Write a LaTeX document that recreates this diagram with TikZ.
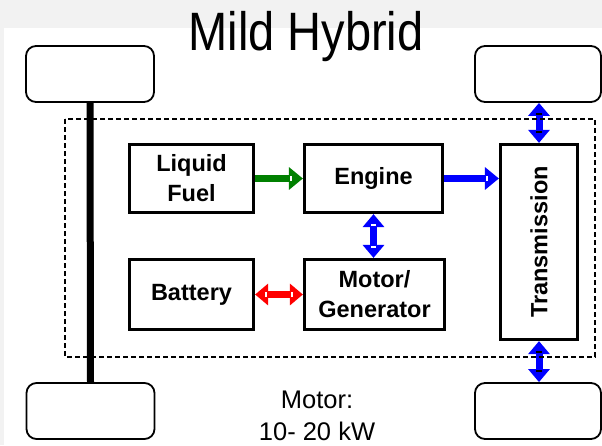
\documentclass[tikz,border=0pt]{standalone}
\usepackage{fontspec}
\usepackage{graphicx}
\setmainfont{Liberation Sans}
\usetikzlibrary{arrows.meta}
\begin{document}
\begin{tikzpicture}[x=1pt,y=-1pt,
  blk/.style={draw, line width=3.2pt, fill=white, font=\fontsize{23.5}{30}\selectfont\bfseries, align=center, inner sep=0pt},
  wheel/.style={draw, line width=1.8pt, rounded corners=10pt, fill=white, inner sep=0pt, minimum height=56pt},
  arr/.style={line width=7pt, -{Triangle[length=14pt,width=22pt]}},
  darr/.style={line width=7pt, {Triangle[length=13pt,width=21pt]}-{Triangle[length=13pt,width=21pt]}},
  wstripe/.style={white, line width=1.3pt},
  bstripe/.style={black, line width=1.6pt},
  lbl/.style={font=\fontsize{25.5}{32}\selectfont, anchor=base, inner sep=0pt}]
\useasboundingbox (0,0) rectangle (602,445);
\fill[white] (0,0) rectangle (602,445);
\fill[black!5] (0,0) rectangle (602,28);
\fill[black!5] (0,28) rectangle (4,445);
% wheels
\node[wheel, minimum width=128pt] (wTL) at (90,74) {};
\node[wheel, minimum width=126pt] (wTR) at (538,74) {};
\node[wheel, minimum width=128pt] (wBL) at (90.5,411) {};
\node[wheel, minimum width=126pt] (wBR) at (538,411) {};
% axle
\draw[line width=7pt] (wTL.south) -- (wBL.north);
% blocks
\node[blk, minimum width=124pt, minimum height=68pt] (fuel) at (191.5,178.5) {Liquid\\Fuel};
\node[blk, minimum width=138pt, minimum height=68pt] (engine) at (373.5,178.5) {Engine};
\node[blk, minimum width=124pt, minimum height=70pt] (battery) at (191.5,294.5) {Battery};
\node[blk, minimum width=140pt, minimum height=70pt] (motor) at (374.5,294.5) {Motor/\\Generator};
\node[blk, minimum width=77pt, minimum height=195pt] (trans) at (539,242) {\rotatebox{90}{Transmission}};
% arrows
\draw[arr, green!50!black] (fuel.east) -- (engine.west);
\draw[wstripe] ([xshift=-12pt,yshift=-2.5pt]engine.west) -- ([xshift=-12pt,yshift=2.5pt]engine.west);
\draw[arr, blue] (engine.east) -- (engine.east -| trans.west);
\draw[wstripe] ([xshift=-12pt,yshift=-2.5pt]engine.east -| trans.west) -- ([xshift=-12pt,yshift=2.5pt]engine.east -| trans.west);
\draw[darr, blue] (engine.south) -- (engine.south |- motor.north);
\draw[wstripe] ([xshift=-2.5pt,yshift=-11pt]engine.south) -- ([xshift=2.5pt,yshift=-11pt]engine.south);
\draw[wstripe] ([xshift=-2.5pt,yshift=11pt]engine.south |- motor.north) -- ([xshift=2.5pt,yshift=11pt]engine.south |- motor.north);
\draw[darr, red] (battery.east) -- (motor.west);
\draw[wstripe] ([xshift=11pt,yshift=-2.5pt]battery.east) -- ([xshift=11pt,yshift=2.5pt]battery.east);
\draw[wstripe] ([xshift=-11pt,yshift=-2.5pt]motor.west) -- ([xshift=-11pt,yshift=2.5pt]motor.west);
\draw[darr, blue] (trans.north |- wTR.south) -- (trans.north);
\draw[bstripe] ([xshift=-3pt,yshift=-11pt]trans.north |- wTR.south) -- ([xshift=3pt,yshift=-11pt]trans.north |- wTR.south);
\draw[bstripe] ([xshift=-3pt,yshift=11pt]trans.north) -- ([xshift=3pt,yshift=11pt]trans.north);
\draw[darr, blue] (trans.south) -- (trans.south |- wBR.north);
\draw[bstripe] ([xshift=-3pt,yshift=-11pt]trans.south) -- ([xshift=3pt,yshift=-11pt]trans.south);
\draw[bstripe] ([xshift=-3pt,yshift=11pt]trans.south |- wBR.north) -- ([xshift=3pt,yshift=11pt]trans.south |- wBR.north);
% dashed frame
\draw[line width=1.5pt, dash pattern=on 5pt off 3pt] (65,119) rectangle (595,357);
% texts
\node[anchor=base, inner sep=0pt, font=\fontsize{47}{50}\selectfont] (title) at (306,50) {\scalebox{1}[1.15]{Mild Hybrid}};
\node[lbl] (mlbl1) at (317,408) {Motor:};
\node[lbl] (mlbl2) at (317,440) {10- 20 kW};
\end{tikzpicture}
\end{document}
